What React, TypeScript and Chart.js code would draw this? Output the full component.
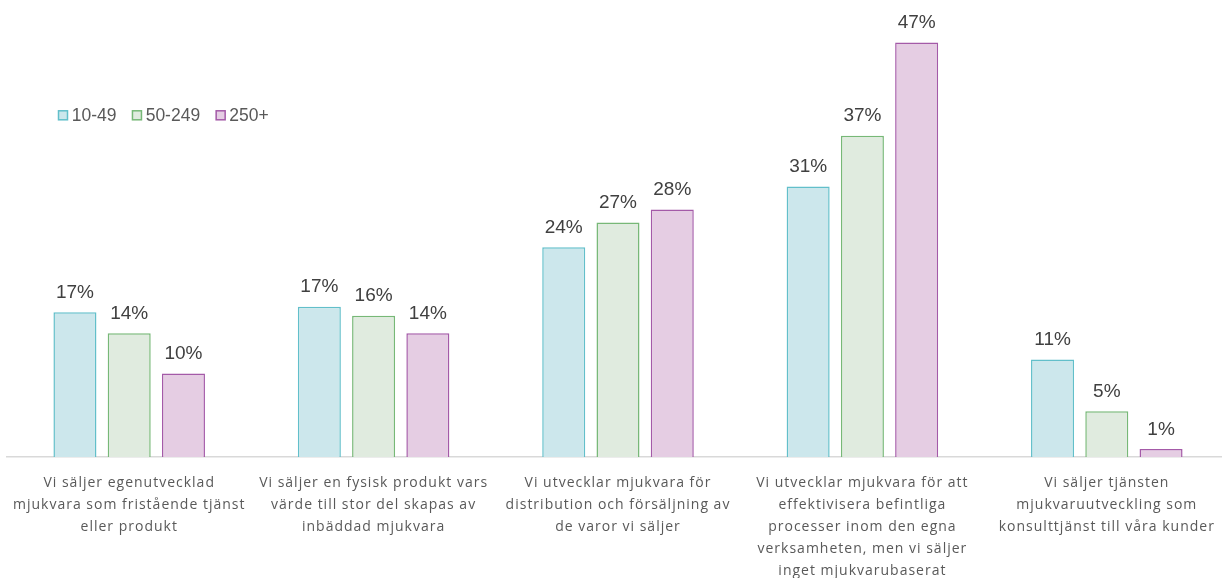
import React, { useEffect, useRef } from 'react';
import { Chart, registerables } from 'chart.js';

Chart.register(...registerables);

const categories: string[][] = [
  ['Vi säljer egenutvecklad', 'mjukvara som fristående tjänst', 'eller produkt'],
  ['Vi säljer en fysisk produkt vars', 'värde till stor del skapas av', 'inbäddad mjukvara'],
  ['Vi utvecklar mjukvara för', 'distribution och försäljning av', 'de varor vi säljer'],
  [
    'Vi utvecklar mjukvara för att',
    'effektivisera befintliga',
    'processer inom den egna',
    'verksamheten, men vi säljer',
    'inget mjukvarubaserat',
  ],
  ['Vi säljer tjänsten', 'mjukvaruutveckling som', 'konsulttjänst till våra kunder'],
];

const seriesNames = ['10-49', '50-249', '250+'];
const small = [16.5, 17.1, 23.9, 30.8, 11.1];
const medium = [14.1, 16.1, 26.7, 36.6, 5.2];
const large = [9.5, 14.1, 28.2, 47.2, 0.9];

const fills = ['#cce7ec', '#e0ebdf', '#e5cde3'];
const borders = ['#62bfca', '#77b877', '#a45aa8'];

const letterSpacingPlugin = {
  id: 'letterSpacing',
  beforeUpdate(chart: any) {
    chart.ctx.letterSpacing = '1px';
  },
  beforeDraw(chart: any) {
    chart.ctx.letterSpacing = '1px';
  },
};

const dataLabelPlugin = {
  id: 'dataLabels',
  afterDatasetsDraw(chart: any) {
    const ctx = chart.ctx;
    ctx.save();
    ctx.letterSpacing = '0px';
    ctx.font = '19px "Liberation Sans", Arial, sans-serif';
    ctx.fillStyle = '#404040';
    ctx.textAlign = 'center';
    ctx.textBaseline = 'alphabetic';
    chart.data.datasets.forEach((ds: any, di: number) => {
      const meta = chart.getDatasetMeta(di);
      meta.data.forEach((el: any, i: number) => {
        const v = ds.data[i] as number;
        ctx.fillText(Math.round(v) + '%', el.x, el.y - 14.5);
      });
    });
    ctx.restore();
  },
};

const legendPlugin = {
  id: 'customLegend',
  afterDraw(chart: any) {
    const ctx = chart.ctx;
    ctx.save();
    ctx.letterSpacing = '0px';
    ctx.font = '17.5px "Liberation Sans", Arial, sans-serif';
    ctx.textBaseline = 'middle';
    ctx.textAlign = 'left';
    let x = 58.5;
    const cy = 115.3;
    chart.data.datasets.forEach((ds: any) => {
      ctx.fillStyle = ds.backgroundColor;
      ctx.strokeStyle = ds.borderColor;
      ctx.lineWidth = 1.5;
      ctx.fillRect(x, cy - 4.5, 9, 9);
      ctx.strokeRect(x, cy - 4.5, 9, 9);
      ctx.fillStyle = '#595959';
      const tx = x + 13.2;
      ctx.fillText(ds.label, tx, cy + 0.5);
      x = tx + ctx.measureText(ds.label).width + 16;
    });
    ctx.restore();
  },
};

export default function App() {
  const ref = useRef<HTMLCanvasElement | null>(null);

  useEffect(() => {
    if (!ref.current) return;
    const seriesData = [small, medium, large];
    const chart = new Chart(ref.current, {
      type: 'bar',
      data: {
        labels: categories,
        datasets: seriesNames.map((name, i) => ({
          label: name,
          data: seriesData[i],
          backgroundColor: fills[i],
          borderColor: borders[i],
          borderWidth: 1.5,
          categoryPercentage: 0.666,
          barPercentage: 0.793,
        })),
      },
      options: {
        responsive: false,
        animation: false,
        devicePixelRatio: 1,
        layout: { padding: { left: 7, right: 11, top: 18, bottom: 0 } },
        plugins: {
          legend: { display: false },
          tooltip: { enabled: false },
        },
        scales: {
          x: {
            grid: {
              display: true,
              drawOnChartArea: false,
              drawTicks: true,
              tickLength: 15,
              color: 'rgba(0,0,0,0)',
            },
            border: { display: true, color: '#d9d9d9', width: 1.5 },
            ticks: {
              padding: 0,
              color: '#595959',
              maxRotation: 0,
              autoSkip: false,
              font: { family: '"Open Sans", sans-serif', size: 14, lineHeight: '22px' as any },
            },
          },
          y: {
            display: false,
            min: 0,
            max: 50,
          },
        },
      },
      plugins: [letterSpacingPlugin, dataLabelPlugin, legendPlugin],
    });
    return () => chart.destroy();
  }, []);

  return (
    <div
      style={{
        position: 'absolute',
        left: 0,
        top: 0,
        width: 1222,
        height: 578,
        overflow: 'hidden',
        background: '#ffffff',
      }}
    >
      <canvas ref={ref} width={1240} height={582} style={{ display: 'block' }} />
    </div>
  );
}
